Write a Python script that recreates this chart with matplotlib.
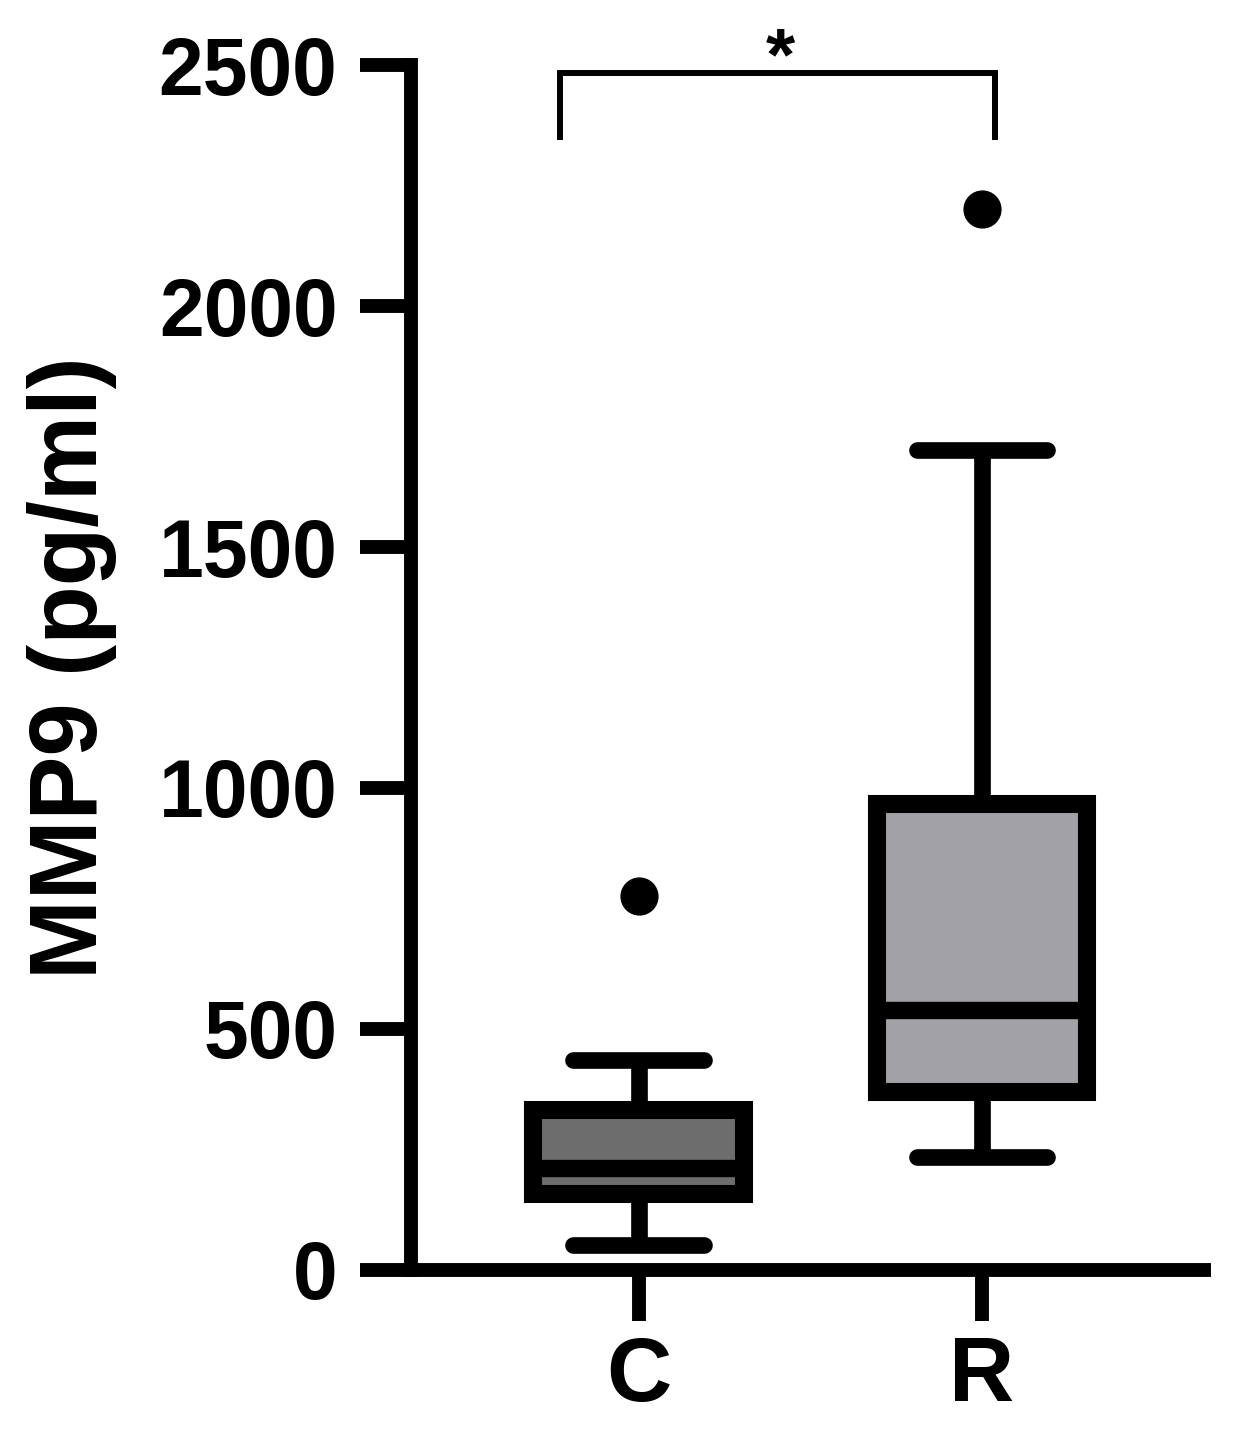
import matplotlib
matplotlib.use('Agg')
import matplotlib.pyplot as plt

# box plot summary (pg/ml)
groups = ['C', 'R']
whislo = [52, 234]
q1 = [158, 369]
med = [212, 539]
q3 = [332, 967]
whishi = [436, 1701]
fliers = [[776], [2202]]
fills = ['#6d6d6d', '#a2a1a6']

# significance bracket
bracket_x = [0.771, 2.038]
bracket_y = 2483
bracket_drop = 2351

plt.rcParams['font.family'] = ['Liberation Sans', 'DejaVu Sans']
plt.rcParams['font.weight'] = 'bold'

fig = plt.figure(figsize=(12.34, 14.29), dpi=100)
ax = fig.add_axes([0.3331, 0.11127, 0.6426, 0.84324])

stats = []
for i in range(len(groups)):
    stats.append({'label': groups[i], 'whislo': whislo[i], 'q1': q1[i], 'med': med[i],
                  'q3': q3[i], 'whishi': whishi[i], 'fliers': fliers[i]})

bp = ax.bxp(stats, positions=[1, 2], widths=0.614, capwidths=0.38, patch_artist=True,
            boxprops=dict(linewidth=13, edgecolor='black', joinstyle='miter'),
            medianprops=dict(color='black', linewidth=12.5, solid_capstyle='butt'),
            whiskerprops=dict(color='black', linewidth=12, solid_capstyle='butt'),
            capprops=dict(color='black', linewidth=12, solid_capstyle='round'),
            flierprops=dict(marker='o', markersize=26.5, markerfacecolor='black',
                            markeredgecolor='black'))
for patch, c in zip(bp['boxes'], fills):
    patch.set_facecolor(c)

ax.set_xlim(0.3377, 2.6463)
ax.set_ylim(0, 2500)
ax.set_yticks([0, 500, 1000, 1500, 2000, 2500])
ax.set_xticks([1, 2])
ax.set_xticklabels(groups)

for s in ['top', 'right']:
    ax.spines[s].set_visible(False)
for s in ['left', 'bottom']:
    ax.spines[s].set_linewidth(10)

ax.tick_params(axis='y', length=37, width=10, pad=16, labelsize=58)
ax.tick_params(axis='x', length=37, width=10, pad=10, labelsize=65)
for lab in ax.get_yticklabels() + ax.get_xticklabels():
    lab.set_fontweight('bold')

ax.set_ylabel('MMP9 (pg/ml)', fontsize=69, fontweight='bold', labelpad=30)

ax.plot([bracket_x[0], bracket_x[0], bracket_x[1], bracket_x[1]],
        [bracket_drop, bracket_y, bracket_y, bracket_drop],
        color='black', linewidth=4.3, clip_on=False, solid_joinstyle='miter')
ax.text(1.412, bracket_y - 43, '*', fontsize=54, fontweight='bold',
        ha='center', va='bottom')

fig.savefig('out.png', dpi=100)
